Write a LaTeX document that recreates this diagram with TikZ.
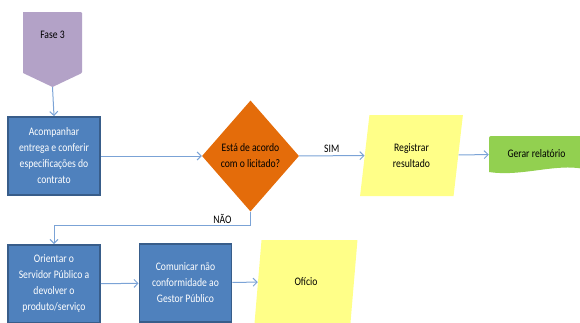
\documentclass[tikz,border=0pt]{standalone}
\usepackage{fontspec}
\setmainfont{Carlito}[FakeStretch=0.84]
\usetikzlibrary{shapes.geometric,arrows.meta,calc}

\definecolor{taskblue}{HTML}{4F81BD}
\definecolor{taskedge}{HTML}{385D8A}
\definecolor{flowline}{HTML}{7BA3D6}
\definecolor{decorange}{HTML}{E46C0A}
\definecolor{docyellow}{HTML}{FFFF88}
\definecolor{phaselilac}{HTML}{B3A2C7}
\definecolor{endgreen}{HTML}{92D050}

\begin{document}
\begin{tikzpicture}[
  x=1pt, y=-1pt,
  font=\fontsize{11.5}{16}\selectfont,
  task/.style={
    draw=taskedge,
    line width=1.8pt,
    fill=taskblue,
    text=white,
    align=center,
    minimum width=92pt,
    minimum height=78pt,
    inner sep=1pt
  },
  decision/.style={
    diamond,
    fill=decorange,
    aspect=0.87,
    minimum width=97pt,
    minimum height=111pt,
    inner sep=0pt,
    align=center
  },
  record/.style={
    trapezium,
    trapezium left angle=81,
    trapezium right angle=99,
    trapezium stretches=true,
    fill=docyellow,
    minimum width=103pt,
    minimum height=81pt,
    align=center
  },
  flow/.style={
    draw=flowline,
    line width=1pt,
    -{Straight Barb[length=4pt,width=8pt]}
  },
  answer/.style={
    font=\fontsize{11.5}{12}\selectfont,
    inner sep=1pt
  }
]
  \useasboundingbox (0,0) rectangle (580,322);

  % Start of the phase (off-page connector).
  \fill[phaselilac, rounded corners=1pt] (23,12) -- (82,12) -- (82,73)
    [sharp corners] -- (52.5,87) -- (23,73) -- cycle;
  \node (fase) at (52.5,35) {Fase 3};
  \coordinate (fase-tip) at (52.5,87);

  % End of the flow (document with a wavy bottom).
  \fill[endgreen] (489,139) [rounded corners=2pt] -- (489,136) [sharp corners] -- (584,136)
    -- (584,169) .. controls (556,163) and (522,177) .. (489,172) -- cycle;
  \node[minimum width=95pt, minimum height=36pt, inner sep=0pt] (gerar) at (536.5,154)
    {Gerar relatório};

  % Main line.
  \node[task] (acomp) at (54,156) {Acompanhar\\entrega e conferir\\especificações do\\contrato};
  \node[decision] (check) at (250.5,156) {Está de acordo\\com o licitado?};
  \node[record] (registrar) at (411.5,155.5) {Registrar\\resultado};

  % Return line.
  \node[task] (orientar) at (54,284) {Orientar o\\Servidor Público a\\devolver o\\produto/serviço};
  \node[task] (comunicar) at (185.5,283) {Comunicar não\\conformidade ao\\Gestor Público};
  \node[record, minimum height=83pt] (oficio) at (306,281.5) {Ofício};

  % Connectors.
  \draw[flow] (fase-tip) -- (acomp.north);
  \draw[flow] (acomp) -- (check);
  \draw[flow] (check) -- node[answer, above=2pt] {SIM} (registrar);
  \draw[flow] (registrar) -- (gerar);
  \draw[flow] (check.south) -- ++(0,14) coordinate (turn)
    -| (orientar.north);
  \node[answer, anchor=south] (nao) at ($(turn)+(-28,-1)$) {NÃO};
  \draw[flow] (orientar) -- (comunicar);
  \draw[flow] (comunicar) -- (oficio);
\end{tikzpicture}
\end{document}
